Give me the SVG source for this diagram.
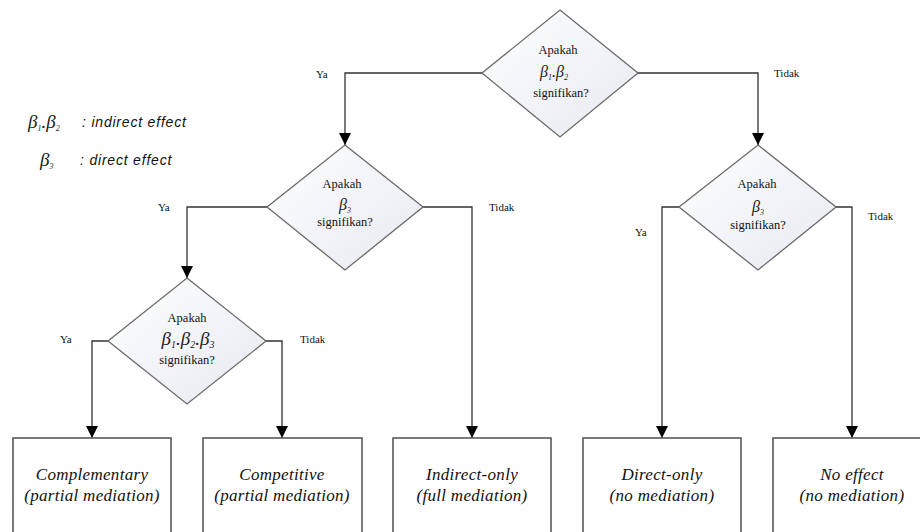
<svg xmlns="http://www.w3.org/2000/svg" width="920" height="532" viewBox="0 0 920 532">
<defs>
<linearGradient id="dg" x1="0" y1="0" x2="1" y2="1">
<stop offset="0" stop-color="#ffffff"/>
<stop offset="1" stop-color="#e6e9f1"/>
</linearGradient>
<marker id="arr" markerUnits="userSpaceOnUse" markerWidth="13" markerHeight="12" refX="12" refY="6" orient="auto" viewBox="0 0 13 12">
<path d="M0,0 L12,6 L0,12 Z" fill="#000"/>
</marker>
</defs>
<style>
.dia{fill:url(#dg);stroke:#6a6a6a;stroke-width:1.3}
.box{fill:#fff;stroke:#5a5a5a;stroke-width:1.6}
.con{fill:none;stroke:#333;stroke-width:1.3}
.t{font-family:"Liberation Serif",serif;font-size:12.5px;fill:#111;text-anchor:middle}
.lbl{font-family:"Liberation Serif",serif;font-size:11px;fill:#111}
.b{font-family:"Liberation Serif",serif;font-style:italic;font-size:16px;fill:#222;text-anchor:middle}
.sub{font-size:8px}
.bx{font-family:"Liberation Serif",serif;font-style:italic;font-size:17px;fill:#111;text-anchor:middle;letter-spacing:0.3px}
.leg{font-family:"Liberation Sans",sans-serif;font-style:italic;font-size:14px;fill:#111;letter-spacing:0.8px}
</style>
<g id="connectors">
<polyline class="con" points="482,73 345,73 345,145" marker-end="url(#arr)"/>
<polyline class="con" points="638,73 758,73 758,145" marker-end="url(#arr)"/>
<polyline class="con" points="267,207 187,207 187,278" marker-end="url(#arr)"/>
<polyline class="con" points="423,207 472,207 472,438" marker-end="url(#arr)"/>
<polyline class="con" points="108,341 92,341 92,438" marker-end="url(#arr)"/>
<polyline class="con" points="266,341 282,341 282,438" marker-end="url(#arr)"/>
<polyline class="con" points="679,207 662,207 662,438" marker-end="url(#arr)"/>
<polyline class="con" points="836,207 852,207 852,438" marker-end="url(#arr)"/>
<text class="lbl" x="316" y="78">Ya</text>
<text class="lbl" x="774" y="77">Tidak</text>
<text class="lbl" x="158" y="211">Ya</text>
<text class="lbl" x="489" y="211">Tidak</text>
<text class="lbl" x="60" y="343">Ya</text>
<text class="lbl" x="300" y="343">Tidak</text>
<text class="lbl" x="635" y="236">Ya</text>
<text class="lbl" x="868" y="220">Tidak</text>
</g>
<g id="legend">
<text class="b" x="28" y="128" style="text-anchor:start;font-size:19px">β<tspan class="sub" dy="3">1</tspan><tspan dy="-3">.β</tspan><tspan class="sub" dy="3">2</tspan></text>
<text class="leg" x="82" y="127">: indirect effect</text>
<text class="b" x="40" y="166" style="text-anchor:start;font-size:19px">β<tspan class="sub" dy="3">3</tspan></text>
<text class="leg" x="80" y="165">: direct effect</text>
</g>
<g id="d1">
<polygon class="dia" points="560,10 638,73 560,137 482,73"/>
<text class="t" x="558" y="54">Apakah</text>
<text class="b" x="554" y="77">β<tspan class="sub" dy="3">1</tspan><tspan dy="-3">.β</tspan><tspan class="sub" dy="3">2</tspan></text>
<text class="t" x="561" y="97">signifikan?</text>
</g>
<g id="d2">
<polygon class="dia" points="345,145 423,207 345,270 267,207"/>
<text class="t" x="342" y="188">Apakah</text>
<text class="b" x="345" y="210">β<tspan class="sub" dy="3">3</tspan></text>
<text class="t" x="345" y="226">signifikan?</text>
</g>
<g id="d3">
<polygon class="dia" points="187,278 266,341 187,404 108,341"/>
<text class="t" x="187" y="322">Apakah</text>
<text class="b" x="188" y="345" style="font-size:19px">β<tspan class="sub" dy="3" style="font-size:10px">1</tspan><tspan dy="-3">.β</tspan><tspan class="sub" dy="3" style="font-size:10px">2</tspan><tspan dy="-3">.β</tspan><tspan class="sub" dy="3" style="font-size:10px">3</tspan></text>
<text class="t" x="187" y="364">signifikan?</text>
</g>
<g id="d4">
<polygon class="dia" points="758,145 836,207 758,270 679,207"/>
<text class="t" x="757" y="188">Apakah</text>
<text class="b" x="758" y="212">β<tspan class="sub" dy="3">3</tspan></text>
<text class="t" x="758" y="229">signifikan?</text>
</g>
<g id="b1">
<rect class="box" x="13" y="438" width="158" height="110"/>
<text class="bx" x="92" y="480">Complementary</text>
<text class="bx" x="92" y="501">(partial mediation)</text>
</g>
<g id="b2">
<rect class="box" x="203" y="438" width="159" height="110"/>
<text class="bx" x="282" y="480">Competitive</text>
<text class="bx" x="282" y="501">(partial mediation)</text>
</g>
<g id="b3">
<rect class="box" x="393" y="438" width="158" height="110"/>
<text class="bx" x="472" y="480">Indirect-only</text>
<text class="bx" x="472" y="501">(full mediation)</text>
</g>
<g id="b4">
<rect class="box" x="583" y="438" width="158" height="110"/>
<text class="bx" x="662" y="480">Direct-only</text>
<text class="bx" x="662" y="501">(no mediation)</text>
</g>
<g id="b5">
<rect class="box" x="773" y="438" width="158" height="110"/>
<text class="bx" x="852" y="480">No effect</text>
<text class="bx" x="852" y="501">(no mediation)</text>
</g>
</svg>
